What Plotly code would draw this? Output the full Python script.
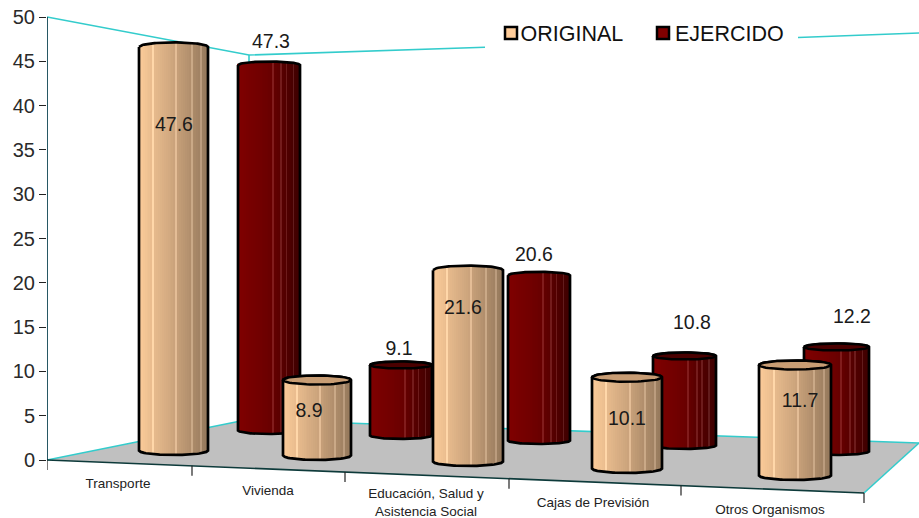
import math
import plotly.graph_objects as go

# ---- data ----
categories = ["Transporte", "Vivienda", "Educación, Salud y<br>Asistencia Social",
              "Cajas de Previsión", "Otros Organismos"]
original = [47.6, 8.9, 21.6, 10.1, 11.7]
ejercido = [47.3, 9.1, 20.6, 10.8, 12.2]
y_ticks = [0, 5, 10, 15, 20, 25, 30, 35, 40, 45, 50]
series_names = ["ORIGINAL", "EJERCIDO"]
series_colors = ["#ffcc99", "#800000"]

# ---- perspective layout (positions only) ----
W, H = 919, 518
X0, Y0, PX = 47, 460, 8.86   # left axis x, pixel of value 0, pixels per unit


def yu(py):
    return (Y0 - py) / PX


orig_x = [173.5, 317, 468, 627, 795]
orig_hw = [34.5, 34, 35, 35, 36]
orig_base = [1.07, 0.51, -0.17, -0.96, -1.75]
orig_scale = [0.957, 0.957, 1.0, 1.02, 1.066]
orig_ry = [4.5, 4.5, 4.5, 4.5, 4.5]
orig_cap = [False, True, False, True, True]
orig_label_px = [(174, 126), (309, 412), (463, 309), (627, 420), (800, 402)]

ejer_x = [269, 401, 539, 684.5, 836.5]
ejer_hw = [31, 31, 31, 31.5, 32.5]
ejer_base = [3.33, 2.77, 2.2, 1.64, 0.96]
ejer_scale = [0.872, 0.874, 0.905, 0.935, 0.967]
ejer_ry = [3.5, 3.5, 3.5, 3.5, 3.5]
ejer_cap = [False, True, False, True, True]
ejer_label_px = [(271, 43), (399, 350), (534, 256), (692, 324), (852, 318)]

cat_label_px = [(118, 485), (268, 492), (426, 503.5), (593, 504), (770, 511)]
cat_tick_x = [47, 192, 345, 509, 681, 864]
legend_key_px = [(511, 33), (663, 33)]
legend_text_px = [(520.5, 36), (675, 36)]

floor_px = [(47, 460), (248, 419.5), (919, 443), (864, 493)]

ORIG_STOPS = [(0.0, (252, 204, 154)), (0.5, (205, 165, 125)), (1.0, (148, 120, 92))]
EJER_STOPS = [(0.0, (128, 0, 0)), (0.5, (108, 0, 0)), (1.0, (62, 0, 0))]
ORIG_CAP, EJER_CAP = "#c89d74", "#4a0000"
ORIG_STREAKS = [0.2, 0.53, 0.76, 0.9]
EJER_STREAKS = [0.56, 0.7, 0.8, 0.9]
N = 36


def mix(stops, t, lighten=0):
    for (a, ca), (b, cb) in zip(stops, stops[1:]):
        if t <= b:
            f = (t - a) / (b - a)
            c = [ca[i] + (cb[i] - ca[i]) * f + lighten for i in range(3)]
            return "rgb(%d,%d,%d)" % tuple(min(255, c_) for c_ in c)
    return "rgb(%d,%d,%d)" % stops[-1][1]


fig = go.Figure()

# floor and walls
fig.add_trace(go.Scatter(
    x=[p[0] for p in floor_px] + [floor_px[0][0]],
    y=[yu(p[1]) for p in floor_px] + [yu(floor_px[0][1])],
    mode="none", fill="toself", fillcolor="#c0c0c0", zorder=0,
    showlegend=False, cliponaxis=False))
fig.add_trace(go.Scatter(
    x=[47, 248, 919, None, 864, 919, None, 47, 249, 485, None, 798, 919, None, 249, 249, None, 47, 47],
    y=[yu(460), yu(419.5), yu(443), None, yu(493), yu(443), None, yu(17), yu(55), yu(47.2),
       None, yu(37.5), yu(33), None, yu(55), yu(419.5), None, yu(17), yu(460)],
    mode="lines", line=dict(color="#33cccc", width=1.6), zorder=0,
    showlegend=False, cliponaxis=False))


def cylinder(xc, hw, base, value, scale, ry, cap, stops, streaks, capcolor, z):
    ryu = ry / PX
    top = base + value * scale
    xs, bases, heights, colors = [], [], [], []
    sw = 2 * hw / N
    for i in range(N):
        t = (i + 0.5) / N
        u = 2 * t - 1
        arc = ryu * math.sqrt(1 - u * u)
        xs.append(xc + u * hw)
        bases.append(base - arc)
        heights.append(top - base + 2 * arc)
        light = 28 if any(abs(t - s) < 0.5 / N for s in streaks) else 0
        colors.append(mix(stops, t, light))
    fig.add_trace(go.Bar(x=xs, y=heights, base=bases, width=sw * 1.12,
                         marker=dict(color=colors, line=dict(width=0)),
                         zorder=z, showlegend=False))
    n = 41
    ax, ay = [], []
    for i in range(n):  # top arc, left to right
        u = -1 + 2 * i / (n - 1)
        ax.append(xc + u * hw)
        ay.append(top + ryu * math.sqrt(1 - u * u))
    for i in range(n):  # bottom arc, right to left
        u = 1 - 2 * i / (n - 1)
        ax.append(xc + u * hw)
        ay.append(base - ryu * math.sqrt(1 - u * u))
    ax.append(ax[0])
    ay.append(ay[0])
    fig.add_trace(go.Scatter(x=ax, y=ay, mode="lines",
                             line=dict(color="#000", width=2.7),
                             zorder=z + 1, showlegend=False, cliponaxis=False))
    if cap:
        cx, cy = [], []
        for i in range(61):
            a = 2 * math.pi * i / 60
            cx.append(xc + hw * math.cos(a))
            cy.append(top + ryu * math.sin(a))
        fig.add_trace(go.Scatter(x=cx, y=cy, mode="lines", fill="toself",
                                 fillcolor=capcolor,
                                 line=dict(color="#000", width=2.5),
                                 zorder=z + 1, showlegend=False, cliponaxis=False))


for i in range(5):
    cylinder(ejer_x[i], ejer_hw[i], ejer_base[i], ejercido[i], ejer_scale[i], ejer_ry[i],
             ejer_cap[i], EJER_STOPS, EJER_STREAKS, EJER_CAP, 1)
for i in range(5):
    cylinder(orig_x[i], orig_hw[i], orig_base[i], original[i], orig_scale[i], orig_ry[i],
             orig_cap[i], ORIG_STOPS, ORIG_STREAKS, ORIG_CAP, 3)

# front edge of the floor, ticks, y axis line
fy = lambda x: 460 + (x - 47) * 33 / 817
tx, ty = [], []
for x in cat_tick_x:
    tx += [x, x, None]
    ty += [yu(fy(x)), yu(fy(x) + 10), None]
fig.add_trace(go.Scatter(x=[47, 864], y=[yu(460), yu(493)], mode="lines",
                         line=dict(color="#0d3a3a", width=1.6), zorder=5,
                         showlegend=False, cliponaxis=False))
fig.add_trace(go.Scatter(x=tx, y=ty, mode="lines", line=dict(color="#222", width=1.2),
                         zorder=5, showlegend=False, cliponaxis=False))
fig.add_trace(go.Scatter(x=[47, 47], y=[0, 50], mode="lines", line=dict(color="#123", width=1.4),
                         zorder=5, showlegend=False, cliponaxis=False))

# value labels
LF = dict(family="Liberation Sans", size=19.5, color="#1a1a1a")
fig.add_trace(go.Scatter(x=[p[0] for p in orig_label_px], y=[yu(p[1]) for p in orig_label_px],
                         text=[f"{v:.1f}" for v in original], mode="text", textfont=LF,
                         textposition="middle center", zorder=6, showlegend=False, cliponaxis=False))
fig.add_trace(go.Scatter(x=[p[0] for p in ejer_label_px], y=[yu(p[1]) for p in ejer_label_px],
                         text=[f"{v:.1f}" for v in ejercido], mode="text", textfont=LF,
                         textposition="middle center", zorder=6, showlegend=False, cliponaxis=False))
# category labels
fig.add_trace(go.Scatter(x=[p[0] for p in cat_label_px], y=[yu(p[1]) for p in cat_label_px],
                         text=categories, mode="text",
                         textfont=dict(family="Liberation Sans", size=13.5, color="#222"),
                         textposition="middle center", zorder=6, showlegend=False, cliponaxis=False))

# legend keys and names
for name, col, k, t in zip(series_names, series_colors, legend_key_px, legend_text_px):
    fig.add_trace(go.Scatter(x=[k[0]], y=[yu(k[1])], mode="markers", name=name,
                             marker=dict(symbol="square", size=12, color=col,
                                         line=dict(color="#000", width=2.5)),
                             zorder=6, showlegend=False, cliponaxis=False))
    fig.add_trace(go.Scatter(x=[t[0]], y=[yu(t[1])], mode="text", text=[name],
                             textposition="middle right",
                             textfont=dict(family="Liberation Sans", size=21.5, color="#111"),
                             zorder=6, showlegend=False, cliponaxis=False))

fig.update_layout(
    width=W, height=H, autosize=False,
    margin=dict(l=X0, r=0, t=0, b=0, pad=0),
    paper_bgcolor="white", plot_bgcolor="white",
    barmode="overlay", hovermode=False, bargap=0, showlegend=False,
    xaxis=dict(range=[X0, W], visible=False, fixedrange=True),
    yaxis=dict(range=[yu(H), yu(0)], tickvals=y_ticks, ticks="outside", ticklen=7, tickwidth=1.4,
               tickcolor="#222", showgrid=False, zeroline=False, showline=False, fixedrange=True,
               tickfont=dict(family="Liberation Sans", size=20, color="#2a2a2a")),
)

fig.write_html("out.html", config=dict(displayModeBar=False),
               post_script="document.body.style.margin='0';")
